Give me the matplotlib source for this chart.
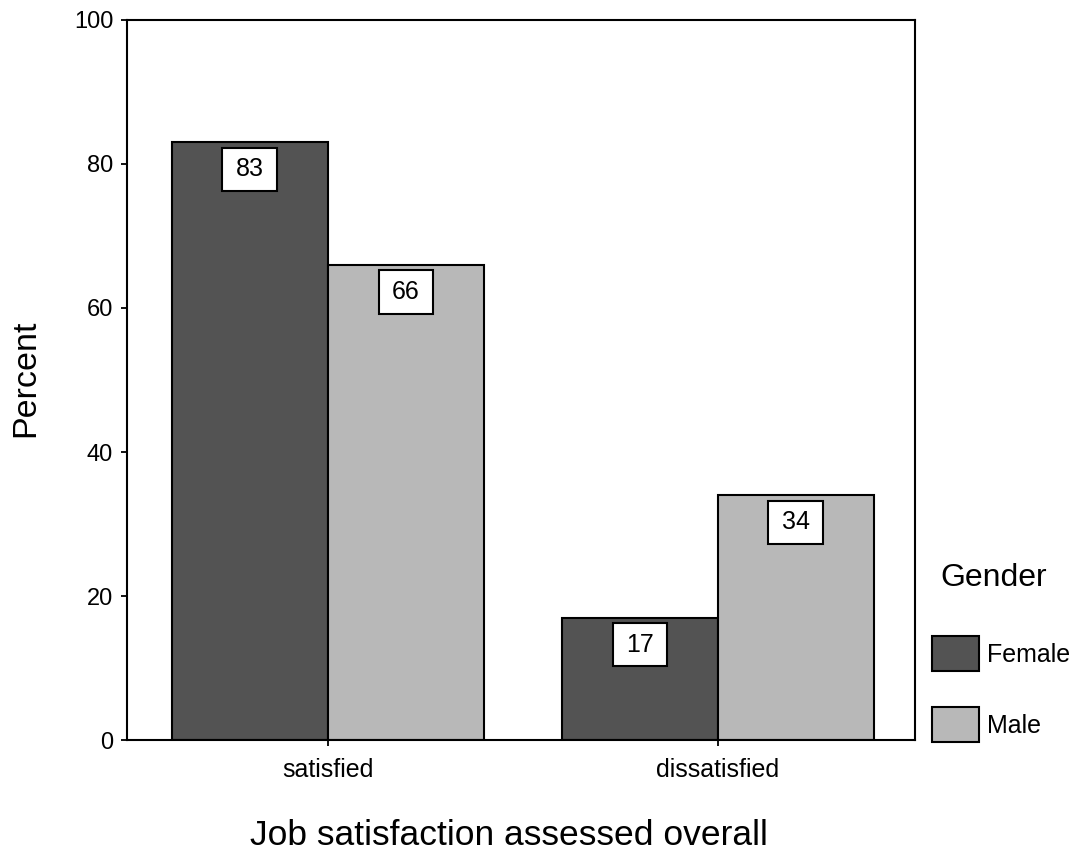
import matplotlib
matplotlib.use("Agg")
import matplotlib.pyplot as plt
from matplotlib.path import Path
import numpy as np

categories = ["satisfied", "dissatisfied"]
groups = ["Female", "Male"]
female_pct = [83, 17]
male_pct = [66, 34]
yticks = [0, 20, 40, 60, 80, 100]

plt.rcParams["font.family"] = ["Liberation Sans", "DejaVu Sans"]


def label_box(x0, y0, width, height, mutation_size):
    """Rectangle around a value label with separate horizontal/vertical padding."""
    px = 0.54 * mutation_size
    py = 0.39 * mutation_size
    x0, y0 = x0 - px, y0 - py
    x1, y1 = x0 + width + 2 * px, y0 + height + 2 * py
    return Path([(x0, y0), (x1, y0), (x1, y1), (x0, y1), (x0, y0)], closed=True)


fig = plt.figure(figsize=(10.73, 8.61), dpi=100)
ax = fig.add_axes([0.1184, 0.1405, 0.7343, 0.8363])

x = np.arange(len(categories))
width = 0.4
series = [(female_pct, "#535353", -width / 2), (male_pct, "#b8b8b8", width / 2)]
bars_all = []
for vals, color, off in series:
    bars = ax.bar(x + off, vals, width, color=color, edgecolor="black",
                  linewidth=1.5, zorder=2)
    bars_all.append(bars)
    for rect, v in zip(bars, vals):
        ax.annotate(f"{v}", xy=(rect.get_x() + rect.get_width() / 2, v),
                    xytext=(0, -19.5), textcoords="offset points",
                    ha="center", va="center", fontsize=18, zorder=3,
                    bbox=dict(boxstyle=label_box, fc="white",
                              ec="black", lw=1.5))

ax.set_xlim(-0.515, 1.505)
ax.set_ylim(0, 100)
ax.set_xticks(x)
ax.set_xticklabels(categories, fontsize=18)
ax.set_yticks(yticks)
ax.set_yticklabels([str(t) for t in yticks], fontsize=17)
ax.tick_params(axis="both", direction="out", length=4, width=1.3, pad=6)
ax.tick_params(axis="x", pad=9)
for s in ax.spines.values():
    s.set_linewidth(1.5)

ax.set_ylabel("Percent", fontsize=24.5, va="center")
ax.yaxis.set_label_coords(-0.129, 0.503)
ax.set_xlabel("Job satisfaction assessed overall", fontsize=25.5, va="center")
ax.xaxis.set_label_coords(0.485, -0.132)

# Legend: title drawn as its own text, entries below it
ax.text(1.0318, 0.246, "Gender", transform=ax.transAxes, fontsize=23,
        ha="left", va="top")
leg = ax.legend([b[0] for b in bars_all], groups,
                loc="upper left", bbox_to_anchor=(1.0216, 0.1444),
                frameon=False, fontsize=18,
                handlelength=1.88, handleheight=1.78, handletextpad=0.32,
                labelspacing=1.44, borderaxespad=0, borderpad=0)

fig.savefig("out.png", dpi=100)
